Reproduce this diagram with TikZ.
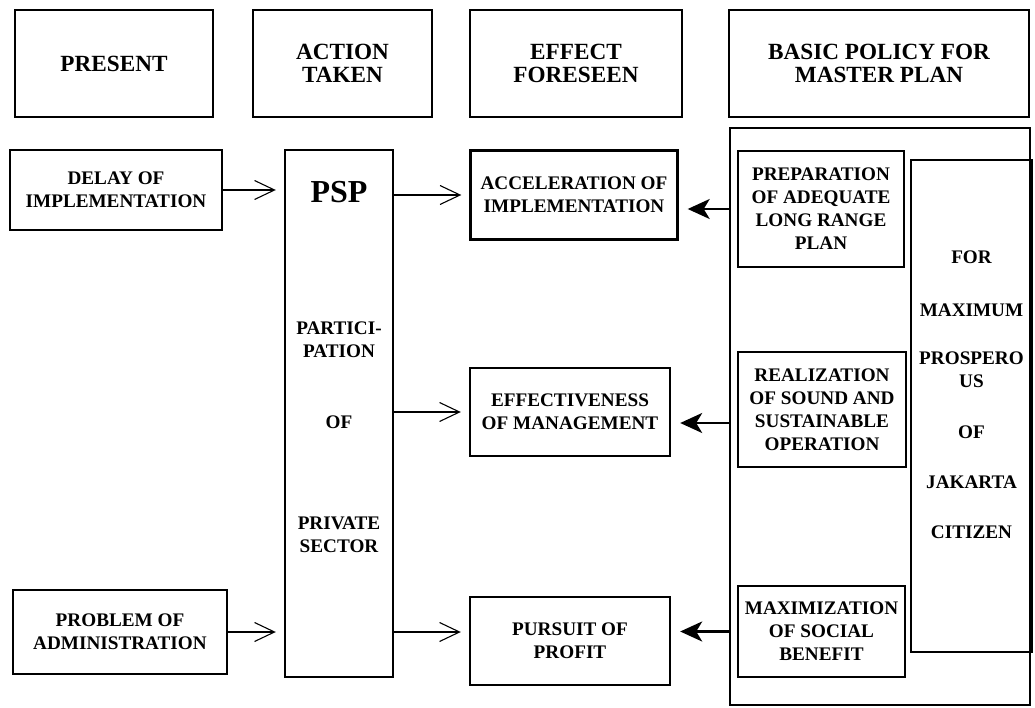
\documentclass[tikz,border=0pt]{standalone}
\usepackage{fontspec}
\setmainfont{Liberation Serif}
\usetikzlibrary{arrows.meta}

\begin{document}
\begin{tikzpicture}[x=1pt,y=-1pt]
 \tikzstyle{headbox} = [draw=black,line width=1.1pt,align=center,font=\fontsize{23.2}{23.5}\selectfont\bfseries]
 \tikzstyle{itembox} = [draw=black,line width=2.4pt,align=center,inner sep=0pt,font=\fontsize{19.2}{23}\selectfont\bfseries]
 \tikzstyle{itemtext} = [align=center,inner sep=0pt,font=\fontsize{19.2}{23}\selectfont\bfseries]
 \tikzstyle{pushes} = [-{Straight Barb[length=20pt,width=19pt]},line width=1.1pt,shorten >=8pt]
 \tikzstyle{pulls} = [-{Stealth[length=22pt,width=20pt,inset=6pt]},line width=2.4pt,shorten >=9pt]

  \useasboundingbox (0,0) rectangle (1035,708);

  % Headings
  \node[headbox,minimum width=198pt,minimum height=107pt] (hPresent) at (114,63.5) {PRESENT};
  \node[headbox,minimum width=179pt,minimum height=107pt] (hAction)  at (342.5,63.5) {ACTION\\TAKEN};
  \node[headbox,minimum width=212pt,minimum height=107pt] (hEffect)  at (576,63.5) {EFFECT\\FORESEEN};
  \node[headbox,minimum width=300pt,minimum height=107pt] (hPolicy)  at (879,63.5) {BASIC POLICY FOR\\MASTER PLAN};

  % Present
  \node[itembox,minimum width=212pt,minimum height=80pt] (delay)   at (116,190) {DELAY OF\\IMPLEMENTATION};
  \node[itembox,minimum width=214pt,minimum height=84pt] (problem) at (120,632) {PROBLEM OF\\ADMINISTRATION};

  % Action taken
  \node[itembox,minimum width=108pt,minimum height=527pt] (psp) at (339,413.5) {};
  \node[itemtext,font=\fontsize{32}{34}\selectfont\bfseries] (pspT) at (339,192) {PSP};
  \node[itemtext] (partT) at (339,340) {PARTICI-\\PATION};
  \node[itemtext] (ofT)   at (339,422) {OF};
  \node[itemtext] (privT) at (339,535) {PRIVATE\\SECTOR};

  % Effect foreseen
  \node[itembox,minimum width=207pt,minimum height=89pt] (accel)   at (574,195) {ACCELERATION OF\\IMPLEMENTATION};
  \node[itembox,minimum width=200pt,minimum height=88pt] (effect)  at (570,412) {EFFECTIVENESS\\OF MANAGEMENT};
  \node[itembox,minimum width=200pt,minimum height=88pt] (pursuit) at (570,641) {PURSUIT OF\\PROFIT};

  % Basic policy
  \node[draw=black,line width=2.6pt,minimum width=300pt,minimum height=577pt] (policy) at (880,416.5) {};
  \node[itembox,line width=1.6pt,minimum width=166pt,minimum height=116pt] (prep)  at (821,209) {PREPARATION\\OF ADEQUATE\\LONG RANGE\\PLAN};
  \node[itembox,line width=1.6pt,minimum width=168pt,minimum height=115pt] (real)  at (822,409.5) {REALIZATION\\OF SOUND AND\\SUSTAINABLE\\OPERATION};
  \node[itembox,line width=1.6pt,minimum width=167pt,minimum height=91pt]  (maxim) at (821.5,631.5) {MAXIMIZATION\\OF SOCIAL\\BENEFIT};
  \node[itembox,line width=1.6pt,minimum width=121pt,minimum height=492pt] (goal)  at (971.5,406) {};
  \node[itemtext] (forT)   at (971.5,257) {FOR};
  \node[itemtext] (maxT)   at (971.5,310) {MAXIMUM};
  \node[itemtext] (prosT)  at (971.5,370) {PROSPERO\\US};
  \node[itemtext] (ofT2)   at (971.5,432) {OF};
  \node[itemtext] (jakT)   at (971.5,482) {JAKARTA};
  \node[itemtext] (citT)   at (971.5,532) {CITIZEN};

  \coordinate (midPull) at (730,423);

  % Arrows
  \draw[pushes] (delay.east) -- (psp.west |- delay.east);
  \draw[pushes] (problem.east) -- (psp.west |- problem.east);
  \draw[pushes] (psp.east |- accel.west) -- (accel.west);
  \draw[pushes] (psp.east |- effect.west) -- (effect.west);
  \draw[pushes] (psp.east |- problem.east) -- (pursuit.west |- problem.east);

  \draw[pulls] (policy.west |- prep) -- (accel.east |- prep);
  \draw[pulls] (midPull) -- (effect.east |- midPull);
  \draw[pulls] (policy.west |- maxim) -- (pursuit.east |- maxim);

\end{tikzpicture}
\end{document}
